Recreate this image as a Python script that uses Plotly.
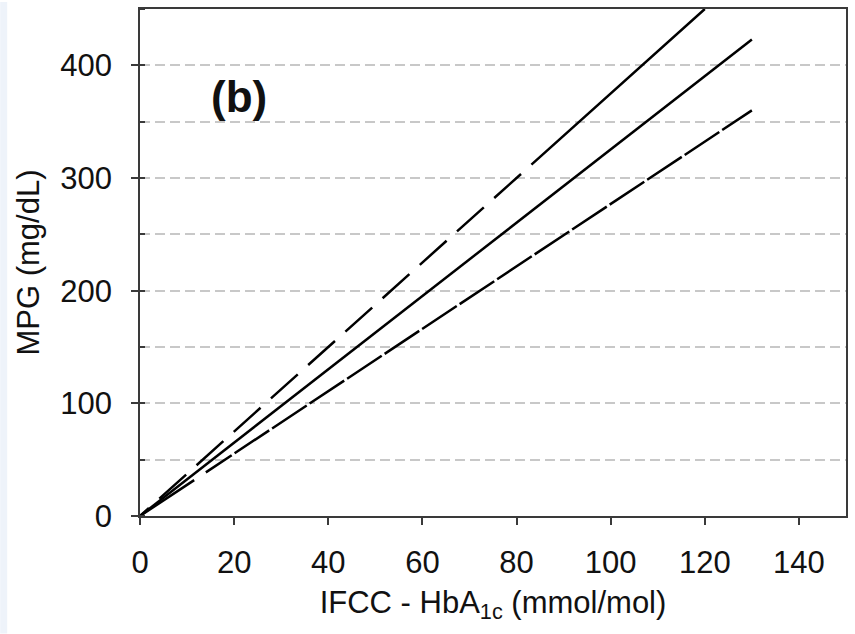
import plotly.graph_objects as go

# ---- data ----
hba1c_ifcc = [0, 130]          # IFCC HbA1c (mmol/mol)
hba1c_upper = [0, 120]         # upper line leaves the plot at the top
mpg_upper = [0, 450]
mpg_mid = [0, 423]
mpg_lower = [0, 360]

x_ticks = [0, 20, 40, 60, 80, 100, 120, 140]
y_ticks = [0, 100, 200, 300, 400]
y_minor_right = [50, 150, 250, 350]

FONT = "Arial, Liberation Sans, sans-serif"
AX = "#3a3a3a"
GRID = "#c8c8c8"
TXT = "#111"

upper_dash = ",".join(["12px", "14px"] + ["36px", "14px"] * 10 + ["1200px", "10px"])
lower_dash = ",".join(["65px", "14px", "31px", "3.5px"] + ["41.5px", "3.5px"] * 24)

fig = go.Figure()
fig.add_trace(go.Scatter(x=hba1c_upper, y=mpg_upper, mode="lines",
                         line=dict(color="#000", width=2.5, dash=upper_dash),
                         showlegend=False, hoverinfo="skip"))
fig.add_trace(go.Scatter(x=hba1c_ifcc, y=mpg_mid, mode="lines",
                         line=dict(color="#000", width=2.5),
                         showlegend=False, hoverinfo="skip"))
fig.add_trace(go.Scatter(x=hba1c_ifcc, y=mpg_lower, mode="lines",
                         line=dict(color="#000", width=2.5, dash=lower_dash),
                         showlegend=False, hoverinfo="skip"))

fig.update_layout(
    width=855, height=634,
    margin=dict(l=140, r=8, t=7, b=118, pad=0),
    paper_bgcolor="white", plot_bgcolor="white",
    font=dict(family=FONT, color=TXT),
    xaxis=dict(
        range=[0, 150], tickvals=x_ticks, ticks="outside", ticklen=7,
        tickwidth=1.5, tickcolor=AX, showline=True, linecolor=AX,
        linewidth=1.5, mirror=True, showgrid=False, zeroline=False,
        tickfont=dict(size=31, color=TXT), ticklabelstandoff=11,
        title=dict(text="IFCC - HbA<sub>1c</sub> (mmol/mol)",
                   font=dict(size=31, color=TXT), standoff=12),
    ),
    yaxis=dict(
        range=[0, 450], tickvals=y_ticks, ticks="outside", ticklen=7,
        tickwidth=1.5, tickcolor=AX, showline=True, linecolor=AX,
        linewidth=1.5, mirror=True, zeroline=False,
        showgrid=True, gridcolor=GRID, gridwidth=1.5, griddash="10px,5px",
        minor=dict(dtick=50, tick0=0, ticks="inside", ticklen=5,
                   tickwidth=1.5, tickcolor=AX, showgrid=True,
                   gridcolor=GRID, gridwidth=1.5, griddash="10px,5px"),
        tickfont=dict(size=31, color=TXT), ticklabelstandoff=13,
        title=dict(text="MPG (mg/dL)", font=dict(size=31, color=TXT),
                   standoff=11),
    ),
    yaxis2=dict(
        range=[0, 450], overlaying="y", side="right", anchor="x",
        tickvals=y_minor_right, ticks="inside", ticklen=5, tickwidth=1.5,
        tickcolor=AX, showticklabels=False, showgrid=False, showline=False,
        zeroline=False,
    ),
    shapes=[dict(type="rect", xref="paper", yref="paper",
                 x0=-140 / 707, x1=-133 / 707, y0=-118 / 509, y1=7 / 509 + 1,
                 fillcolor="#eef3fa", line=dict(width=0), layer="below")],
    annotations=[dict(text="<b>(b)</b>", x=21, y=372, xref="x", yref="y",
                      showarrow=False, xanchor="center", yanchor="middle",
                      font=dict(size=44, color=TXT, family=FONT))],
)

fig.write_html("out.html")
